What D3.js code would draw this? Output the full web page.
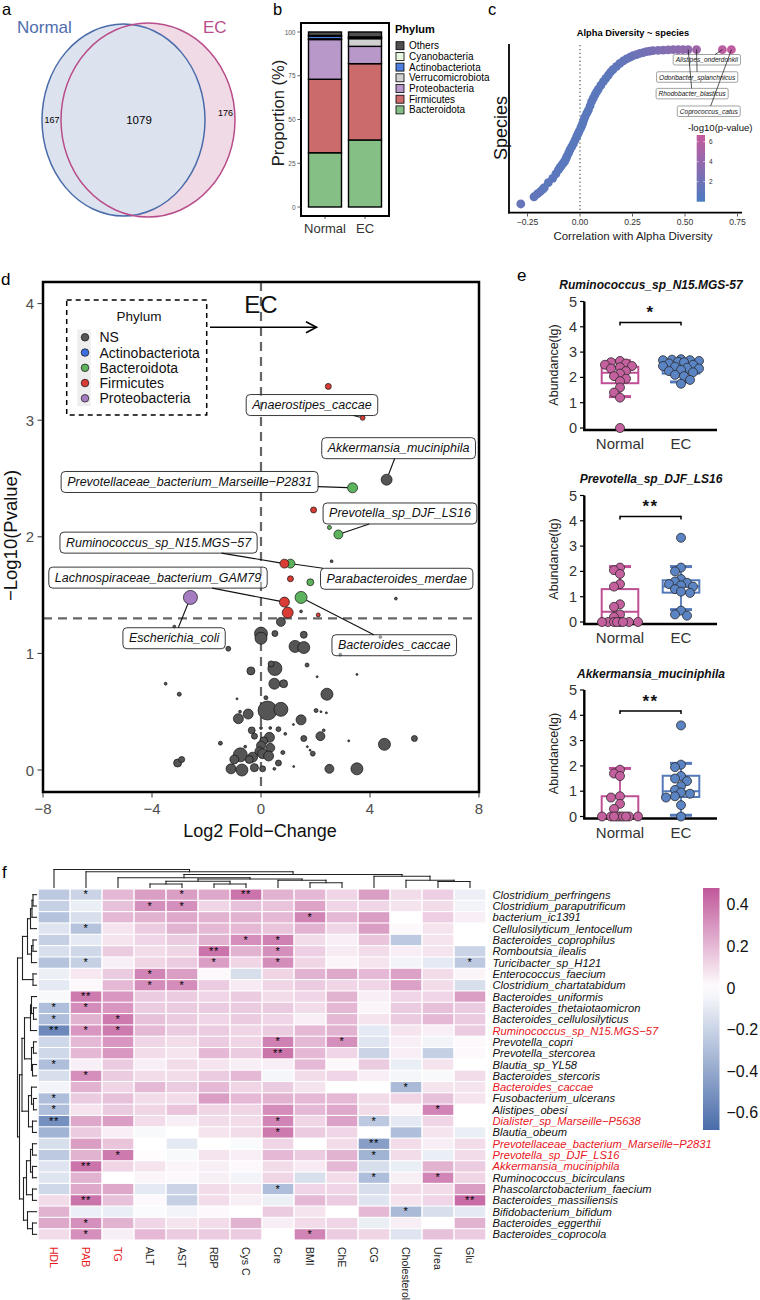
<!DOCTYPE html>
<html>
<head>
<meta charset="utf-8">
<script src="https://cdn.jsdelivr.net/npm/d3@7/dist/d3.min.js"></script>
<style>
html,body{margin:0;padding:0;background:#fff;}
svg{display:block;font-family:"Liberation Sans",Arial,Helvetica,sans-serif;}
</style>
</head>
<body>
<svg id="fig" width="760" height="1300" viewBox="0 0 760 1300"></svg>
<script>
// ====================== DATA ======================
// (a) Venn
const vennSets = ["Normal", "EC"];
const vennCounts = [167, 1079, 176]; // Normal only, shared, EC only

// (b) phylum composition (stack order bottom -> top)
const barGroups = ["Normal", "EC"];
const phyla = ["Bacteroidota", "Firmicutes", "Proteobacteria", "Verrucomicrobiota", "Actinobacteriota", "Cyanobacteria", "Others"];
const phylumColors = ["#86BF86", "#CB6B6B", "#B898C8", "#D0D0D0", "#4C7FE0", "#E6F7DF", "#505050"];
const propNormal = [31.0, 42.0, 22.7, 0.4, 1.6, 0.3, 2.0];
const propEC = [38.3, 43.6, 9.9, 4.4, 0.5, 0.5, 2.8];
const propTicks = [0, 25, 50, 75, 100];

// (c) correlation with alpha diversity (rank as fraction of species)
const cCorr = [-0.282,-0.219,-0.203,-0.190,-0.177,-0.170,-0.151,-0.130,-0.115,-0.103,-0.095,-0.087,-0.080,-0.074,-0.068,-0.063,-0.055,-0.048,-0.040,-0.032,-0.024,-0.016,-0.010,-0.005,0.003,0.008,0.013,0.018,0.024,0.032,0.040,0.048,0.055,0.063,0.071,0.079,0.087,0.099,0.111,0.123,0.135,0.146,0.158,0.174,0.190,0.206,0.222,0.238,0.253,0.269,0.285,0.301,0.317,0.333,0.348,0.372,0.396,0.420,0.444,0.468,0.491,0.515,0.555,0.678,0.721];
const cRank = [0.052,0.095,0.112,0.125,0.140,0.149,0.179,0.205,0.231,0.255,0.270,0.284,0.295,0.304,0.319,0.334,0.354,0.374,0.392,0.410,0.432,0.453,0.469,0.483,0.503,0.518,0.533,0.553,0.572,0.593,0.612,0.637,0.662,0.682,0.702,0.720,0.736,0.759,0.781,0.801,0.821,0.839,0.855,0.873,0.891,0.905,0.917,0.927,0.936,0.943,0.950,0.955,0.960,0.963,0.966,0.968,0.970,0.971,0.972,0.972,0.972,0.973,0.973,0.972,0.972];
const cLogP = [1.5,1.2,1.2,1.1,1.1,1.0,1.0,0.9,0.9,0.9,0.8,0.8,0.8,0.8,0.8,0.8,0.8,0.8,0.8,0.8,0.8,0.8,0.8,0.8,0.8,0.8,0.8,0.8,0.8,0.8,0.8,0.9,0.9,0.9,0.9,0.9,0.9,1.0,1.0,1.0,1.0,1.1,1.1,1.1,1.2,1.3,1.4,1.5,1.6,1.8,1.9,2.0,2.2,2.3,2.5,2.7,2.9,3.1,3.3,3.5,3.7,3.9,4.6,6.1,6.5];
const cLabels = ["Alistipes_onderdonkii", "Odoribacter_splanchnicus", "Rhodobacter_blasticus", "Coprococcus_catus"];
const cLabelTarget = [63, 62, 61, 64];
const cTicks = [-0.25, 0, 0.25, 0.5, 0.75];

// (d) volcano
const dPhylumNames = ["NS", "Actinobacteriota", "Bacteroidota", "Firmicutes", "Proteobacteria"];
const dPhylumColors = ["#555555", "#3F6FE0", "#5DB35D", "#D93B35", "#A57BC2"];
const dFC = [0.73,-3.18,0,0,0.51,1.57,1.25,1.57,4.38,2.91,-1.2,0.51,0.37,-0.37,1.69,2.06,3.52,0.49,0.83,-3.5,-3.0,2.42,-0.88,0.18,0.24,0.73,2.02,2.2,2.4,-0.47,-0.83,1.47,-0.77,1.19,0,-0.34,-0.24,0.34,0.64,0.89,2.30,2.18,1.57,0.31,0.10,-1.49,3.22,4.53,5.63,1.7,1.8,1.90,0,0.34,-0.06,0.06,-0.76,-0.31,-0.98,-0.43,-0.58,0.28,0.80,0.64,-0.24,-1.10,-0.70,0.06,0.49,2.51,3.52,1.2,-3.06,-2.91,2.59,4.95,1.47,4.61,
  1.08,0.86,2.47,3.73,3.36,1.93,2.51,2.84,1.08,1.81,-2.59,1.47,0.86,0.98,2.10];
const dLogP = [1.27,1.23,1.17,1.13,1.17,1.16,1.06,1.05,1.14,0.99,1.04,0.87,0.91,0.85,0.90,0.80,0.82,0.74,0.74,0.74,0.65,0.65,0.61,0.62,0.51,0.52,0.51,0.50,0.49,0.48,0.44,0.43,0.50,0.39,0.36,0.34,0.29,0.36,0.35,0.31,0.34,0.29,0.27,0.28,0.25,0.23,0.25,0.22,0.27,0.20,0.17,0.14,0.21,0.19,0.16,0.14,0.13,0.11,0.09,0.09,0.20,0.12,0.15,0.06,0.02,0.01,0.00,0.01,0.01,0.01,0.01,0.03,0.06,0.09,1.79,1.47,1.36,2.49,
  1.77,1.77,3.29,3.02,2.42,2.23,2.08,2.02,1.64,1.61,1.48,1.48,1.44,1.35,1.33];
const dAbund = [20,2,42,36,9,12,36,36,2,2,6,49,9,16,4,1,1,30,16,2,4,36,1,4,90,49,4,1,1,25,25,25,2,1,2,12,9,2,6,2,2,20,9,25,16,4,1,36,9,1,1,6,20,20,20,25,49,25,20,16,2,25,4,9,16,25,36,9,2,20,36,1,16,9,2,2,2,30,
  20,20,9,6,25,9,4,20,9,12,49,36,25,30,4];
const dPhylum = Array(78).fill("NS").concat(["Bacteroidota","Firmicutes","Firmicutes","Firmicutes","Bacteroidota","Firmicutes","Bacteroidota","Bacteroidota","Firmicutes","Bacteroidota","Proteobacteria","Bacteroidota","Firmicutes","Firmicutes","Firmicutes"]);
const dLabelNames = ["Anaerostipes_caccae","Akkermansia_muciniphila","Prevotellaceae_bacterium_Marseille-P2831","Prevotella_sp_DJF_LS16","Ruminococcus_sp_N15.MGS-57","Parabacteroides_merdae","Lachnospiraceae_bacterium_GAM79","Escherichia_coli","Bacteroides_caccae"];
const dLabelTarget = [81, 77, 82, 85, 79, 78, 90, 88, 89];
const dXTicks = [-8, -4, 0, 4, 8];
const dYTicks = [0, 1, 2, 3, 4];

// (e) abundance box plots
const eGroups = ["Normal", "EC"];
const eTitles = ["Ruminococcus_sp_N15.MGS-57", "Prevotella_sp_DJF_LS16", "Akkermansia_muciniphila"];
const eSig = ["*", "**", "**"];
const eNormal = [
  [2.65,2.6,2.55,2.5,2.45,2.4,2.35,2.25,2.15,2.05,1.95,1.85,1.6,1.4,1.2,0.0],
  [2.15,2.05,1.9,1.5,1.4,0.7,0.6,0.3,0.2,0,0,0,0,0,0,0,0],
  [1.85,1.7,1.6,0.8,0.75,0.5,0.3,0,0,0,0,0,0,0,0,0]
];
const eEC = [
  [2.72,2.7,2.68,2.68,2.65,2.62,2.6,2.55,2.5,2.45,2.42,2.38,2.35,2.3,2.25,2.2,2.1,2.05,1.9,1.75],
  [3.33,2.15,2.0,1.7,1.6,1.55,1.5,1.45,1.4,1.3,1.2,1.15,0.45,0.3,0.25],
  [3.6,2.05,1.95,1.6,1.5,1.4,1.2,1.05,0.95,0.9,0.8,0.75,0.45,0.0]
];
// [lower whisker, Q1, median, Q3, upper whisker]
const eBoxNormal = [[1.24,1.77,2.18,2.42,2.66],[0,0,0.41,1.30,2.19],[0,0,0.02,0.80,1.90]];
const eBoxEC = [[1.82,2.15,2.37,2.66,2.69],[0.49,1.16,1.40,1.65,2.19],[0.05,0.77,1.00,1.61,2.10]];
const eTicks = [0, 1, 2, 3, 4, 5];

// (f) correlation heatmap
const hmCols = ["HDL","PAB","TG","ALT","AST","RBP","Cys C","Cre","BMI","ChE","CG","Cholesterol","Urea","Glu"];
const hmColRed = ["HDL","PAB","TG"];
const hmRows = ["Clostridium_perfringens","Clostridium_paraputrificum","bacterium_ic1391","Cellulosilyticum_lentocellum","Bacteroides_coprophilus","Romboutsia_ilealis","Turicibacter_sp_H121","Enterococcus_faecium","Clostridium_chartatabidum","Bacteroides_uniformis","Bacteroides_thetaiotaomicron","Bacteroides_cellulosilyticus","Ruminococcus_sp_N15.MGS\u221257","Prevotella_copri","Prevotella_stercorea","Blautia_sp_YL58","Bacteroides_stercoris","Bacteroides_caccae","Fusobacterium_ulcerans","Alistipes_obesi","Dialister_sp_Marseille\u2212P5638","Blautia_obeum","Prevotellaceae_bacterium_Marseille\u2212P2831","Prevotella_sp_DJF_LS16","Akkermansia_muciniphila","Ruminococcus_bicirculans","Phascolarctobacterium_faecium","Bacteroides_massiliensis","Bifidobacterium_bifidum","Bacteroides_eggerthii","Bacteroides_coprocola"];
const hmRowRed = ["Ruminococcus_sp_N15.MGS\u221257","Bacteroides_caccae","Dialister_sp_Marseille\u2212P5638","Prevotellaceae_bacterium_Marseille\u2212P2831","Prevotella_sp_DJF_LS16","Akkermansia_muciniphila"];
const hmValues = [
  [-0.25,-0.20,0.20,0.28,0.28,0.25,0.40, 0.22,0.20,0.12,0.28,0.10,0.14,-0.07],
  [-0.22,-0.08,0.18,0.32,0.32,0.12,0.18, 0.17,0.26,0.12,0.12,0.08,0.10,-0.05],
  [-0.28,-0.15,0.20,0.22,0.25,0.22,0.22, 0.20,0.35,0.20,0.28,0.00,0.14,0.05],
  [-0.12,-0.28,0.08,0.15,0.22,0.20,0.20, 0.17,0.22,0.12,0.28,0.02,0.08,0.00],
  [-0.22,-0.10,0.08,0.12,0.15,0.22,0.32, 0.36,0.10,0.05,0.17,-0.25,0.08,0.00],
  [-0.15,-0.18,0.15,0.10,0.12,0.40,0.22, 0.32,0.14,0.06,0.10,0.05,0.08,-0.20],
  [-0.28,-0.22,0.05,0.12,0.15,0.28,0.12, 0.33,0.12,0.03,0.08,-0.05,-0.10,-0.25],
  [-0.07,0.07,0.15,0.35,0.28,0.02,-0.15, 0.12,0.22,0.25,0.20,0.27,0.10,0.03],
  [-0.10,0.02,0.20,0.33,0.33,0.15,0.06, 0.12,0.15,0.12,0.12,0.27,0.10,-0.15],
  [-0.03,0.38,0.30,0.15,0.15,0.12,0.15, 0.10,0.12,0.22,0.05,0.12,0.12,0.28],
  [-0.30,0.33,0.30,0.15,0.15,0.15,0.15, 0.15,0.10,0.20,0.03,0.15,0.18,0.15],
  [-0.30,0.22,0.38,0.18,0.15,0.12,0.15, 0.12,0.05,0.20,0.08,0.15,0.20,0.15],
  [-0.55,0.30,0.38,0.20,0.15,0.15,0.12, 0.15,0.20,0.22,-0.10,0.08,0.05,0.15],
  [-0.18,0.20,0.30,0.12,0.10,0.15,0.12, 0.36,0.20,0.32,-0.12,0.05,-0.05,0.02],
  [-0.18,0.20,0.30,0.10,0.08,0.20,0.15, 0.40,0.20,0.12,-0.20,0.05,-0.22,0.02],
  [-0.30,0.05,0.15,0.05,0.10,0.08,0.05, 0.05,0.20,0.02,0.15,-0.08,0.08,0.00],
  [-0.15,0.32,0.15,0.10,0.10,0.15,0.20, -0.04,0.10,0.12,0.05,-0.04,-0.03,0.10],
  [-0.05,0.22,0.12,0.20,0.15,0.20,0.12, 0.15,0.08,0.00,0.00,-0.32,0.08,0.08],
  [-0.30,0.15,0.18,0.10,0.10,0.28,0.20, 0.22,0.20,0.20,0.10,0.12,0.18,0.08],
  [-0.30,0.08,0.15,0.12,0.17,0.12,0.12, 0.33,0.20,0.25,0.10,0.03,0.35,0.00],
  [-0.52,0.25,0.28,0.10,0.05,0.10,0.10, 0.35,0.12,0.27,-0.25,-0.10,0.12,0.00],
  [-0.35,0.15,0.05,-0.03,0.00,0.08,0.10, 0.38,0.15,0.12,0.00,-0.30,0.08,-0.08],
  [-0.15,0.28,0.17,0.00,-0.10,0.00,-0.02, 0.12,0.00,0.10,-0.45,0.10,0.05,0.10],
  [-0.25,0.22,0.38,0.01,-0.03,0.08,0.05, 0.20,0.15,0.22,-0.35,0.10,-0.08,0.10],
  [-0.12,0.40,0.12,0.08,0.03,0.05,0.02, 0.10,0.06,0.20,-0.15,-0.08,0.22,0.15],
  [-0.12,0.22,0.00,0.03,0.02,0.05,-0.05, 0.12,-0.15,0.10,-0.30,0.05,0.35,0.12],
  [-0.18,0.25,0.25,-0.10,-0.20,0.10,0.08, -0.30,0.12,0.12,-0.15,0.10,0.10,0.28],
  [0.10,0.40,0.18,0.02,-0.22,0.10,0.05, -0.07,0.20,0.15,-0.12,0.08,0.12,0.42],
  [0.22,-0.07,-0.08,-0.02,-0.05,0.02,0.00, 0.15,0.08,0.00,0.20,-0.32,-0.15,-0.10],
  [0.25,0.32,0.22,0.12,0.08,0.10,0.22, 0.05,0.10,0.12,-0.08,0.05,0.00,0.22],
  [0.10,0.32,0.05,0.20,0.15,0.15,0.15, 0.00,0.35,0.15,0.12,-0.12,0.18,0.15]
];
// [row, column, significance]
const hmStars = [[0,1,"*"],[0,4,"*"],[0,6,"**"],[1,3,"*"],[1,4,"*"],[2,8,"*"],[3,1,"*"],[4,6,"*"],[4,7,"*"],[5,5,"**"],[5,7,"*"],[6,1,"*"],[6,5,"*"],[6,7,"*"],[6,13,"*"],[7,3,"*"],[8,3,"*"],[8,4,"*"],[9,1,"**"],[10,0,"*"],[10,1,"*"],[11,0,"*"],[11,2,"*"],[12,0,"**"],[12,1,"*"],[12,2,"*"],[13,7,"*"],[13,9,"*"],[14,7,"**"],[15,0,"*"],[16,1,"*"],[17,11,"*"],[18,0,"*"],[19,0,"*"],[19,12,"*"],[20,0,"**"],[20,7,"*"],[20,10,"*"],[21,7,"*"],[22,10,"**"],[23,2,"*"],[23,10,"*"],[24,1,"**"],[25,10,"*"],[25,12,"*"],[26,7,"*"],[27,1,"**"],[27,13,"**"],[28,11,"*"],[29,1,"*"],[30,1,"*"],[30,8,"*"]];
// dendrograms: [mergeHeight, left, right]; leaves are indices
const hmColTree = [18, 0, [15.7, 1, [13, [9.7, 2, [8.5, [6.3, [3.5, 3, 4], [3.5, 5, 6]], [7.3, 7, [4.7, 8, 9]]]], [11.3, 10, [7.3, 11, [6, 12, 13]]]]]];
const hmRowTree = [19,
  [14, [9, [6, [4.5, [3.5, 0, 1], 2], 3], [5, [3.5, 4, 5], 6]], [3.5, 7, 8]],
  [17,
    [14.5, [12, [6, [5, 9, [3, 10, 11]], 12], [5, [3, 13, 14], [4, 15, 16]]], [8, [5, 17, [3, 18, 19]], [4, 20, 21]]],
    [13, [10, [6, [4, 22, 23], [4, 24, 25]], [4, 26, 27]], [9, 28, [4, 29, 30]]]
  ]
];
const hmLegendTicks = [0.4, 0.2, 0, -0.2, -0.4, -0.6];

// ====================== DRAWING ======================
const svg = d3.select("#fig");
const MINUS = "\u2212";
const fmtMinus = s => String(s).replace("-", MINUS);

function T(g, x, y, s, o = {}) {
  const t = g.append("text").attr("x", x).attr("y", y).text(s)
    .attr("font-size", o.size || 12).attr("fill", o.fill || "#000");
  if (o.anchor) t.attr("text-anchor", o.anchor);
  if (o.weight) t.attr("font-weight", o.weight);
  if (o.style) t.attr("font-style", o.style);
  if (o.base) t.attr("dominant-baseline", o.base);
  if (o.transform) t.attr("transform", o.transform);
  return t;
}
function L(g, x1, y1, x2, y2, stroke, w, dash) {
  const l = g.append("line").attr("x1", x1).attr("y1", y1).attr("x2", x2).attr("y2", y2)
    .attr("stroke", stroke || "#000").attr("stroke-width", w || 1);
  if (dash) l.attr("stroke-dasharray", dash);
  return l;
}
// clip a segment from point P toward box center to the box border
function boxEdge(px, py, bx, by, bw, bh) {
  const dx = px - bx, dy = py - by;
  if (Math.abs(dx) <= bw / 2 && Math.abs(dy) <= bh / 2) return null;
  const tx = dx !== 0 ? (bw / 2) / Math.abs(dx) : Infinity;
  const ty = dy !== 0 ? (bh / 2) / Math.abs(dy) : Infinity;
  const t = Math.min(tx, ty);
  return [bx + dx * t, by + dy * t];
}

// panel letters
T(svg, 2, 15, "a", {size: 16.5});
T(svg, 273, 15, "b", {size: 16.5});
T(svg, 488, 15, "c", {size: 16.5});
T(svg, 1, 285, "d", {size: 17});
T(svg, 517, 281, "e", {size: 17});
T(svg, 2, 878, "f", {size: 17});

// ---------- (a) Venn ----------
{
  const g = svg.append("g");
  g.append("ellipse").attr("cx", 148).attr("cy", 120).attr("rx", 87).attr("ry", 97)
    .attr("fill", "#EFDAE5").attr("stroke", "none");
  g.append("ellipse").attr("cx", 123.5).attr("cy", 120).attr("rx", 81.5).attr("ry", 96)
    .attr("fill", "#DCE3EE").attr("stroke", "#4A6BAA").attr("stroke-width", 1.5);
  g.append("ellipse").attr("cx", 148).attr("cy", 120).attr("rx", 87).attr("ry", 97)
    .attr("fill", "none").attr("stroke", "#B94D8B").attr("stroke-width", 1.5);
  T(g, 17, 33, vennSets[0], {size: 17, fill: "#4F6DAE"});
  T(g, 203, 33, vennSets[1], {size: 17, fill: "#B94D8B"});
  T(g, 52, 120, vennCounts[0], {size: 9, anchor: "middle", base: "central"});
  T(g, 139, 120, vennCounts[1], {size: 11.5, anchor: "middle", base: "central"});
  T(g, 225.5, 113, vennCounts[2], {size: 9, anchor: "middle", base: "central"});
}

// ---------- (b) stacked bars ----------
{
  const g = svg.append("g");
  const bX = d3.scaleBand().domain(barGroups).range([305, 385]).paddingInner(0.175).paddingOuter(0.0875);
  const bY = d3.scaleLinear().domain([0, 100]).range([207, 32]);
  [propNormal, propEC].forEach((vals, gi) => {
    const cum = d3.cumsum(vals);
    vals.forEach((v, i) => {
      const y1 = bY(cum[i]), y0 = bY(cum[i] - v);
      g.append("rect").attr("x", bX(barGroups[gi])).attr("width", bX.bandwidth())
        .attr("y", y1).attr("height", Math.max(0, y0 - y1))
        .attr("fill", phylumColors[i]).attr("stroke", "#000").attr("stroke-width", 1.4);
    });
    T(g, bX(barGroups[gi]) + bX.bandwidth() / 2, 233, barGroups[gi], {size: 13, anchor: "middle", fill: "#333"});
    L(g, bX(barGroups[gi]) + bX.bandwidth() / 2, 216, bX(barGroups[gi]) + bX.bandwidth() / 2, 219, "#333", 0.8);
  });
  g.append("rect").attr("x", 301).attr("y", 23).attr("width", 88).attr("height", 193)
    .attr("fill", "none").attr("stroke", "#000").attr("stroke-width", 2);
  propTicks.forEach(t => {
    L(g, 297.5, bY(t), 301, bY(t), "#333", 0.8);
    T(g, 295.5, bY(t), t, {size: 6.5, anchor: "end", base: "central", fill: "#555"});
  });
  T(g, 0, 0, "Proportion (%)", {size: 16.5, anchor: "middle", fill: "#222", transform: "translate(284,113) rotate(-90)"});
  T(g, 395, 33, "Phylum", {size: 11, weight: "bold"});
  const order = phyla.map((p, i) => i).reverse();
  order.forEach((pi, k) => {
    const cy = 45.7 + k * 10.7;
    g.append("rect").attr("x", 396).attr("y", cy - 4).attr("width", 8).attr("height", 8)
      .attr("fill", phylumColors[pi]).attr("stroke", "#000").attr("stroke-width", 0.8);
    T(g, 409, cy, phyla[pi], {size: 10, base: "central"});
  });
}

// ---------- (c) rank plot ----------
{
  const g = svg.append("g");
  const cX = d3.scaleLinear().domain([0, 0.5]).range([580, 685]);
  const cY = d3.scaleLinear().domain([0, 1]).range([212.7, 45]);
  const cCol = d3.scaleLinear().domain([0, 6.67]).range(["#4B7CC0", "#C65B9F"]);
  T(g, 633, 36, "Alpha Diversity ~ species", {size: 9.3, weight: "bold", anchor: "middle"});
  L(g, cX(0), 45, cX(0), 212, "#555", 1.2, "1.3,2.6");
  const idx = d3.range(cCorr.length).sort((a, b) => cLogP[a] - cLogP[b]);
  idx.forEach(i => {
    g.append("circle").attr("cx", cX(cCorr[i])).attr("cy", cY(cRank[i])).attr("r", 4.4)
      .attr("fill", cCol(cLogP[i]));
  });
  // axes
  L(g, 509, 44, 509, 213.6, "#000", 1.8);
  L(g, 508.1, 212.7, 742, 212.7, "#000", 1.8);
  cTicks.forEach(t => {
    L(g, cX(t), 213.6, cX(t), 216.5, "#333", 0.8);
    T(g, cX(t), 222, fmtMinus(t.toFixed(2)), {size: 8.6, anchor: "middle", base: "central", fill: "#333"});
  });
  T(g, 0, 0, "Species", {size: 18, anchor: "middle", fill: "#111", transform: "translate(507,128) rotate(-90)"});
  T(g, 633, 240, "Correlation with Alpha Diversity", {size: 11.5, anchor: "middle", fill: "#222"});
  // labels (boxes first, then leader lines)
  const labPos = [[0.604, 0.912], [0.558, 0.809], [0.534, 0.710], [0.613, 0.605]];
  const boxes = [];
  cLabels.forEach((name, k) => {
    const bx = cX(labPos[k][0]), by = cY(labPos[k][1]);
    const t = T(g, bx, by, name, {size: 6.6, style: "italic", anchor: "middle", base: "central", fill: "#111"});
    const w = t.node().getComputedTextLength() + 5, h = 10.5;
    g.insert("rect", () => t.node()).attr("x", bx - w / 2).attr("y", by - h / 2).attr("width", w).attr("height", h)
      .attr("rx", 1.5).attr("fill", "#fff").attr("stroke", "#666").attr("stroke-width", 0.6);
    boxes.push([bx, by, w, h]);
  });
  cLabels.forEach((name, k) => {
    const i = cLabelTarget[k];
    const px = cX(cCorr[i]), py = cY(cRank[i]);
    const [bx, by, w, h] = boxes[k];
    const e = boxEdge(px, py, bx, by, w, h);
    if (e) L(g, px, py, e[0], e[1], "#111", 0.7);
  });
  // colour legend
  T(g, 688, 131, "-log10(p-value)", {size: 9.6, fill: "#111"});
  const defs = svg.append("defs");
  const grad = defs.append("linearGradient").attr("id", "gc").attr("x1", 0).attr("y1", 1).attr("x2", 0).attr("y2", 0);
  d3.range(0, 1.001, 0.1).forEach(o => grad.append("stop").attr("offset", o).attr("stop-color", cCol(o * 6.67)));
  const lgY = d3.scaleLinear().domain([0, 6.67]).range([201.7, 135]);
  g.append("rect").attr("x", 696.7).attr("y", 135).attr("width", 8.3).attr("height", 66.7).attr("fill", "url(#gc)");
  [2, 4, 6].forEach(v => {
    L(g, 696.7, lgY(v), 698.5, lgY(v), "#fff", 0.6);
    L(g, 703.2, lgY(v), 705, lgY(v), "#fff", 0.6);
    T(g, 709, lgY(v), v, {size: 6.5, base: "central", fill: "#333"});
  });
}

// ---------- (d) volcano ----------
{
  const g = svg.append("g");
  const dX = d3.scaleLinear().domain([-8, 8]).range([43, 479]);
  const dY = d3.scaleLinear().domain([0, 4]).range([770, 303.6]);
  const dR = d3.scaleSqrt().domain([0, 100]).range([0, 10]);
  const colOf = p => dPhylumColors[dPhylumNames.indexOf(p)];
  L(g, dX(0), 282, dX(0), 792, "#666", 2.2, "9,6");
  L(g, 43, dY(1.3), 479, dY(1.3), "#666", 2.2, "9,6");
  d3.range(dFC.length).forEach(i => {
    g.append("circle").attr("cx", dX(dFC[i])).attr("cy", dY(dLogP[i])).attr("r", Math.max(0.9, dR(dAbund[i])))
      .attr("fill", colOf(dPhylum[i])).attr("stroke", "#111").attr("stroke-width", 0.7);
  });
  const labPos = [[1.87, 3.13], [5.05, 2.76], [-2.62, 2.47], [5.10, 2.20], [-3.76, 1.95], [4.98, 1.64], [-3.78, 1.65], [-3.19, 1.13], [4.89, 1.07]];
  dLabelNames.forEach((name, k) => {
    const bx = dX(labPos[k][0]), by = dY(labPos[k][1]);
    const t = T(g, bx, by, name.replace("-", MINUS), {size: 12.5, style: "italic", anchor: "middle", base: "central", fill: "#111"});
    const w = t.node().getComputedTextLength() + 12, h = 21;
    g.insert("rect", () => t.node()).attr("x", bx - w / 2).attr("y", by - h / 2).attr("width", w).attr("height", h)
      .attr("rx", 4).attr("fill", "#fff").attr("fill-opacity", 0.45).attr("stroke", "#222").attr("stroke-width", 0.9);
    const i = dLabelTarget[k];
    const px = dX(dFC[i]), py = dY(dLogP[i]);
    const e = boxEdge(px, py, bx, by, w, h);
    if (e) {
      const len = Math.hypot(e[0] - px, e[1] - py);
      const r = Math.max(0.9, dR(dAbund[i]));
      if (len > r + 3) {
        const sx = px + (e[0] - px) * r / len, sy = py + (e[1] - py) * r / len;
        L(g, sx, sy, e[0], e[1], "#111", 1.1);
      }
    }
  });
  // frame & axes
  g.append("rect").attr("x", 43).attr("y", 282).attr("width", 436).attr("height", 510)
    .attr("fill", "none").attr("stroke", "#000").attr("stroke-width", 2.5);
  dXTicks.forEach(t => {
    L(g, dX(t), 793, dX(t), 797.5, "#333", 1);
    T(g, dX(t), 808, fmtMinus(t), {size: 15, anchor: "middle", base: "central", fill: "#4D4D4D"});
  });
  dYTicks.forEach(t => {
    L(g, 37.5, dY(t), 42, dY(t), "#333", 1);
    T(g, 34, dY(t), t, {size: 15, anchor: "end", base: "central", fill: "#4D4D4D"});
  });
  T(g, 260, 836.5, "Log2 Fold" + MINUS + "Change", {size: 18, anchor: "middle", fill: "#111"});
  T(g, 0, 0, MINUS + "Log10(Pvalue)", {size: 18.5, anchor: "middle", fill: "#111", transform: "translate(17,535.5) rotate(-90)"});
  // legend
  g.append("rect").attr("x", 66.7).attr("y", 300).attr("width", 140).attr("height", 115)
    .attr("fill", "none").attr("stroke", "#000").attr("stroke-width", 1.5).attr("stroke-dasharray", "5,4");
  T(g, 139, 321, "Phylum", {size: 13.5, anchor: "middle", fill: "#111"});
  g.append("rect").attr("x", 77.3).attr("y", 329.5).attr("width", 13.4).attr("height", 76.5).attr("fill", "#EEEEEE");
  dPhylumNames.forEach((p, k) => {
    const cy = 337.3 + k * 15.25;
    g.append("circle").attr("cx", 85).attr("cy", cy).attr("r", 3.8).attr("fill", dPhylumColors[k]).attr("stroke", "#111").attr("stroke-width", 0.7);
    T(g, 99.5, cy, p, {size: 14, base: "central", fill: "#111"});
  });
  // EC direction marker
  T(g, 261, 312.7, "EC", {size: 24, anchor: "middle", fill: "#111"});
  L(g, 210, 327.3, 316.5, 327.3, "#000", 1.6);
  g.append("path").attr("d", "M306,321.8 L316.5,327.3 L306,332.8").attr("fill", "none").attr("stroke", "#000").attr("stroke-width", 1.6);
}

// ---------- (e) box plots ----------
{
  const g = svg.append("g");
  const eZero = [428, 622, 816.5];
  const eUnit = 25.3;
  const pink = "#C5609F", blue = "#5B84C4";
  const pinkLine = "#BF4F95", blueLine = "#5479BA";
  function swarm(vals, cx, ys) {
    const order = d3.range(vals.length).sort((a, b) => vals[b] - vals[a]);
    const placed = [];
    const cands = [0];
    for (let k = 1; k <= 6; k++) cands.push(-k * 3, k * 3);
    order.forEach(i => {
      const py = ys(vals[i]);
      let best = cx, bestScore = -Infinity;
      for (const o of cands) {
        const px = cx + o;
        let md = Infinity;
        placed.forEach(q => { const d = Math.hypot(q[0] - px, q[1] - py); if (d < md) md = d; });
        if (md >= 6.2) { best = px; bestScore = Infinity; break; }
        if (md > bestScore) { bestScore = md; best = px; }
      }
      placed.push([best, py]);
    });
    return placed;
  }
  eTitles.forEach((title, k) => {
    const z = eZero[k];
    const y = d3.scaleLinear().domain([0, 5]).range([z, z - 5 * eUnit]);
    const x = d3.scalePoint().domain(eGroups).range([584, 717]).padding(0.59);
    T(g, 651, z - 139, title, {size: 12, weight: "bold", style: "italic", anchor: "middle", fill: "#111"});
    // axes
    L(g, 584.3, y(5), 584.3, z + 2.5, "#000", 2.4);
    L(g, 583.1, z + 2, 717, z + 2, "#000", 2.4);
    eTicks.forEach(t => {
      L(g, 580, y(t), 584.3, y(t), "#000", 1.2);
      T(g, 577, y(t), t, {size: 14.5, anchor: "end", base: "central", fill: "#333"});
    });
    eGroups.forEach(gr => T(g, x(gr), z + 21, gr, {size: 15, anchor: "middle", fill: "#333"}));
    T(g, 0, 0, "Abundance(lg)", {size: 12.5, anchor: "middle", fill: "#222", transform: `translate(558,${z - 63}) rotate(-90)`});
    // boxes
    [[eBoxNormal[k], "Normal", pinkLine], [eBoxEC[k], "EC", blueLine]].forEach(([s, gr, c]) => {
      const cx = x(gr), bw = 36.6, cw = 22;
      L(g, cx, y(s[0]), cx, y(s[1]), c, 1.8);
      L(g, cx, y(s[3]), cx, y(s[4]), c, 1.8);
      L(g, cx - cw / 2, y(s[0]), cx + cw / 2, y(s[0]), c, 3);
      L(g, cx - cw / 2, y(s[4]), cx + cw / 2, y(s[4]), c, 3);
      g.append("rect").attr("x", cx - bw / 2).attr("y", y(s[3])).attr("width", bw).attr("height", Math.max(0.5, y(s[1]) - y(s[3])))
        .attr("fill", "none").attr("stroke", c).attr("stroke-width", 2);
      L(g, cx - bw / 2, y(s[2]), cx + bw / 2, y(s[2]), c, 2);
    });
    // points
    [[eNormal[k], "Normal", pink], [eEC[k], "EC", blue]].forEach(([vals, gr, c]) => {
      swarm(vals, x(gr), y).forEach(p => {
        g.append("circle").attr("cx", p[0]).attr("cy", p[1]).attr("r", 4.5)
          .attr("fill", c).attr("stroke", "#2a2a2a").attr("stroke-width", 0.8);
      });
    });
    // significance bracket
    const by = y(4.17);
    L(g, x("Normal"), by, x("EC"), by, "#000", 1.5);
    L(g, x("Normal"), by - 0.7, x("Normal"), by + 3, "#000", 1.5);
    L(g, x("EC"), by - 0.7, x("EC"), by + 3, "#000", 1.5);
    T(g, (x("Normal") + x("EC")) / 2, y(4.72) + 9.5, eSig[k], {size: 17, anchor: "middle", fill: "#111", weight: "bold"})
      .attr("letter-spacing", 1.5);
  });
}

// ---------- (f) heatmap ----------
{
  const g = svg.append("g");
  const hx = d3.scaleBand().domain(hmCols).range([38, 486]);
  const hy = d3.scaleBand().domain(hmRows).range([889, 1240]);
  const hCol = d3.scaleLinear().domain([-0.683, 0, 0.481]).range(["#4A6CAA", "#FFFFFF", "#C0579A"]);
  hmRows.forEach((rn, r) => {
    hmCols.forEach((cn, c) => {
      g.append("rect").attr("x", hx(cn) + 0.75).attr("y", hy(rn) + 0.55)
        .attr("width", hx.bandwidth() - 1.5).attr("height", hy.bandwidth() - 1.1)
        .attr("fill", hCol(hmValues[r][c]));
    });
  });
  hmStars.forEach(([r, c, s]) => {
    T(g, hx(hmCols[c]) + hx.bandwidth() / 2, hy(hmRows[r]) + hy.bandwidth() / 2 + 3.6, s, {size: 11, anchor: "middle", fill: "#000"})
      .attr("letter-spacing", 0.8);
  });
  hmRows.forEach(rn => {
    T(g, 492.5, hy(rn) + hy.bandwidth() / 2, rn, {size: 11.2, style: "italic", base: "central",
      fill: hmRowRed.includes(rn) ? "#E8161B" : "#111"});
  });
  hmCols.forEach(cn => {
    const cx = hx(cn) + hx.bandwidth() / 2;
    T(g, 0, 0, cn, {size: 10.5, base: "central", fill: hmColRed.includes(cn) ? "#E8161B" : "#222",
      transform: `translate(${cx},1247) rotate(90)`});
  });
  // dendrograms
  function drawTree(tree, leafPos, toXY) {
    function rec(n) {
      if (typeof n === "number") return [leafPos(n), 0];
      const [h, a, b] = n;
      const A = rec(a), B = rec(b);
      const seg = (p1, h1, p2, h2) => {
        const [x1, y1] = toXY(p1, h1), [x2, y2] = toXY(p2, h2);
        L(g, x1, y1, x2, y2, "#222", 1.1).attr("stroke-linecap", "square");
      };
      seg(A[0], A[1], A[0], h);
      seg(B[0], B[1], B[0], h);
      seg(A[0], h, B[0], h);
      return [(A[0] + B[0]) / 2, h];
    }
    rec(tree);
  }
  drawTree(hmColTree, i => hx(hmCols[i]) + hx.bandwidth() / 2, (p, h) => [p, 887.5 - h]);
  drawTree(hmRowTree, i => hy(hmRows[i]) + hy.bandwidth() / 2, (p, h) => [36.5 - h, p]);
  // legend
  const defs = svg.append("defs");
  const grad = defs.append("linearGradient").attr("id", "gf").attr("x1", 0).attr("y1", 1).attr("x2", 0).attr("y2", 0);
  const lgY = d3.scaleLinear().domain([-0.683, 0.481]).range([1130, 888]);
  d3.range(0, 1.0001, 0.05).forEach(o => {
    const v = -0.683 + o * (0.481 + 0.683);
    grad.append("stop").attr("offset", o).attr("stop-color", hCol(v));
  });
  g.append("rect").attr("x", 703).attr("y", 888).attr("width", 16.5).attr("height", 242).attr("fill", "url(#gf)");
  hmLegendTicks.forEach(v => {
    T(g, 726.5, lgY(v), fmtMinus(v), {size: 16, base: "central", fill: "#111"});
  });
}
</script>
</body>
</html>
